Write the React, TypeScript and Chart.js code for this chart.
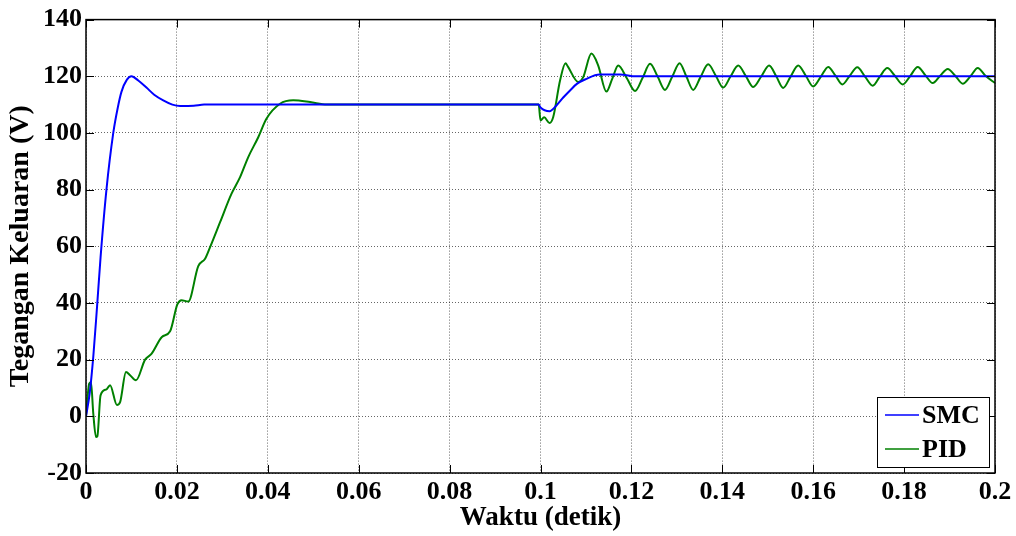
import { useEffect, useRef } from "react";
import { Chart, registerables } from "chart.js";

Chart.register(...registerables);

// ---- data ----
const smcTime = [
  0, 0.0008, 0.0016, 0.0024, 0.0032, 0.0045, 0.006, 0.007, 0.0078, 0.009, 0.01,
  0.0115, 0.0133, 0.015, 0.017, 0.019, 0.0207, 0.0237, 0.026, 0.0996, 0.1,
  0.102, 0.1035, 0.105, 0.1065, 0.108, 0.11, 0.113, 0.1175, 0.121, 0.2,
];
const smcVolt = [
  0, 8, 21, 38, 56, 80, 100, 109, 114.5, 118.8, 120,
  118.5, 116, 113.5, 111.5, 110, 109.5, 109.6, 110, 110, 109,
  107.7, 109.7, 112.5, 115, 117.3, 119, 120.6, 120.6, 120, 120,
];

const pidTime = [
  0, 0.0007, 0.0011, 0.0016, 0.0022, 0.0025, 0.0032, 0.0045, 0.0053, 0.0068,
  0.0075, 0.0088, 0.0097, 0.011, 0.013, 0.0144, 0.0167, 0.0185, 0.0201, 0.021,
  0.0225, 0.0247, 0.0262, 0.0273, 0.0295, 0.032, 0.0339, 0.0357, 0.0379, 0.0397,
  0.0427, 0.0456, 0.0493, 0.053, 0.0996, 0.1, 0.1008, 0.102, 0.1028, 0.1043,
  0.1055, 0.106, 0.1083, 0.1094, 0.1112, 0.1127, 0.1145, 0.1158, 0.1171, 0.119,
  0.1208, 0.1225, 0.1241, 0.1258, 0.1274, 0.129, 0.1306, 0.1321, 0.1336, 0.1352,
  0.1369, 0.1386, 0.1402, 0.1418, 0.1435, 0.1452, 0.1468, 0.1486, 0.1503, 0.1519,
  0.1534, 0.155, 0.1567, 0.1584, 0.16, 0.1617, 0.1633, 0.1649, 0.1664, 0.168,
  0.1697, 0.1714, 0.1731, 0.1747, 0.1763, 0.178, 0.1797, 0.1813, 0.183, 0.1847,
  0.1863, 0.1879, 0.1896, 0.1913, 0.1929, 0.1946, 0.1962, 0.1979, 0.2,
];
const pidVolt = [
  0, 11.5, 12, 1, -7.3, -7, 7.4, 9.5, 11, 4,
  5, 15.6, 14.5, 12.7, 20, 22, 28, 30, 39.5, 41,
  40.5, 53, 55.6, 59.7, 68.5, 78.5, 84.4, 91.5, 98.5, 105,
  110.3, 111.5, 110.9, 110, 110, 104.4, 105.5, 103.5, 105.6, 118.5,
  124.6, 123.5, 118, 119.7, 128, 123.8, 114.6, 119.2, 123.8, 119.3,
  114.8, 119.6, 124.4, 119.8, 115.2, 119.9, 124.6, 119.9, 115.2, 119.7,
  124.2, 120.1, 116, 119.9, 123.8, 120, 116.2, 120, 123.8, 119.9,
  115.9, 119.8, 123.8, 120.1, 116.4, 119.9, 123.3, 120.2, 117.1, 120.1,
  123.2, 119.9, 116.7, 120, 122.9, 120.1, 117.1, 120, 123.3, 120.3,
  117.6, 120.1, 122.6, 120.1, 117.4, 120, 122.9, 120.2, 117.6,
];

const xTickValues = [0, 0.02, 0.04, 0.06, 0.08, 0.1, 0.12, 0.14, 0.16, 0.18, 0.2];
const xTickLabels = ["0", "0.02", "0.04", "0.06", "0.08", "0.1", "0.12", "0.14", "0.16", "0.18", "0.2"];
const yTickValues = [-20, 0, 20, 40, 60, 80, 100, 120, 140];
const yTickLabels = ["-20", "0", "20", "40", "60", "80", "100", "120", "140"];

const seriesNames = ["SMC", "PID"];
const seriesColors = ["#0000ff", "#008000"];
const xTitle = "Waktu (detik)";
const yTitle = "Tegangan Keluaran (V)";

const FONT = "'Liberation Serif', 'Times New Roman', serif";

const boxPlugin = {
  id: "matlabBox",
  afterDatasetsDraw(chart: any) {
    const { ctx, chartArea: a, scales } = chart;
    ctx.save();
    ctx.setLineDash([]);
    ctx.strokeStyle = "#000";
    ctx.lineWidth = 1;
    const L = 8;
    ctx.beginPath();
    for (const v of xTickValues) {
      const px = Math.round(scales.x.getPixelForValue(v)) + 0.5;
      ctx.moveTo(px, a.bottom);
      ctx.lineTo(px, a.bottom - L);
      ctx.moveTo(px, a.top);
      ctx.lineTo(px, a.top + L);
    }
    for (const v of yTickValues) {
      const py = Math.round(scales.y.getPixelForValue(v)) + 0.5;
      ctx.moveTo(a.left, py);
      ctx.lineTo(a.left + L, py);
      ctx.moveTo(a.right, py);
      ctx.lineTo(a.right - L, py);
    }
    ctx.stroke();
    ctx.lineWidth = 1.5;
    ctx.strokeRect(a.left, a.top, a.right - a.left, a.bottom - a.top);
    ctx.restore();
  },
  afterDraw(chart: any) {
    const { ctx, chartArea: a } = chart;
    const bx = a.right - 118;
    const by = a.bottom - 76;
    const bw = 112;
    const bh = 70;
    ctx.save();
    ctx.setLineDash([]);
    ctx.fillStyle = "#fff";
    ctx.fillRect(bx, by, bw, bh);
    ctx.strokeStyle = "#000";
    ctx.lineWidth = 1;
    ctx.strokeRect(bx + 0.5, by + 0.5, bw, bh);
    ctx.font = `bold 26px ${FONT}`;
    ctx.textBaseline = "middle";
    ctx.textAlign = "left";
    chart.data.datasets.forEach((ds: any, i: number) => {
      const y = by + 18 + i * 34;
      ctx.strokeStyle = ds.borderColor;
      ctx.lineWidth = 1.5;
      ctx.beginPath();
      ctx.moveTo(bx + 8, y);
      ctx.lineTo(bx + 42, y);
      ctx.stroke();
      ctx.fillStyle = "#000";
      ctx.fillText(ds.label, bx + 45, y + 1);
    });
    ctx.restore();
  },
};

export default function App() {
  const ref = useRef<HTMLCanvasElement | null>(null);

  useEffect(() => {
    document.body.style.margin = "0";
    if (!ref.current) return;
    const tickFont = { family: FONT, size: 26, weight: "bold" as const };
    const chart = new Chart(ref.current, {
      type: "line",
      data: {
        datasets: [
          {
            label: seriesNames[0],
            data: smcTime.map((t, i) => ({ x: t, y: smcVolt[i] })),
            borderColor: seriesColors[0],
            borderWidth: 2,
            pointRadius: 0,
            cubicInterpolationMode: "monotone",
            fill: false,
          },
          {
            label: seriesNames[1],
            data: pidTime.map((t, i) => ({ x: t, y: pidVolt[i] })),
            borderColor: seriesColors[1],
            borderWidth: 2,
            pointRadius: 0,
            cubicInterpolationMode: "monotone",
            fill: false,
          },
        ],
      },
      options: {
        responsive: false,
        animation: false,
        events: [],
        layout: { padding: { top: 19, right: 21, left: 0, bottom: 0 } },
        plugins: { legend: { display: false }, tooltip: { enabled: false } },
        scales: {
          x: {
            type: "linear",
            min: 0,
            max: 0.2,
            afterBuildTicks: (scale: any) => {
              scale.ticks = xTickValues.map((value) => ({ value }));
            },
            afterFit: (scale: any) => {
              scale.height = 63;
            },
            ticks: {
              autoSkip: false,
              maxRotation: 0,
              padding: 4,
              color: "#000",
              font: tickFont,
              callback: (_v: any, i: number) => xTickLabels[i],
            },
            grid: {
              drawTicks: false,
              color: "rgba(0,0,0,0.6)",
              lineWidth: 1,
            },
            border: { display: false, dash: [1, 2] },
            title: {
              display: true,
              text: xTitle,
              color: "#000",
              font: { family: FONT, size: 27, weight: "bold", lineHeight: 1 },
              padding: { top: 0, bottom: 4 },
            },
          },
          y: {
            type: "linear",
            min: -20,
            max: 140,
            afterBuildTicks: (scale: any) => {
              scale.ticks = yTickValues.map((value) => ({ value }));
            },
            afterFit: (scale: any) => {
              scale.width = 86;
            },
            ticks: {
              autoSkip: false,
              padding: 4,
              color: "#000",
              font: tickFont,
              callback: (_v: any, i: number) => yTickLabels[i],
            },
            grid: {
              drawTicks: false,
              color: "rgba(0,0,0,0.6)",
              lineWidth: 1,
            },
            border: { display: false, dash: [1, 2] },
            title: {
              display: true,
              text: yTitle,
              color: "#000",
              font: { family: FONT, size: 28, weight: "bold", lineHeight: 1 },
              padding: { top: 7, bottom: 0 },
            },
          },
        },
      },
      plugins: [boxPlugin],
    });
    return () => chart.destroy();
  }, []);

  return (
    <div style={{ width: 1016, height: 536, background: "#fff" }}>
      <canvas ref={ref} width={1016} height={536} style={{ display: "block" }} />
    </div>
  );
}
